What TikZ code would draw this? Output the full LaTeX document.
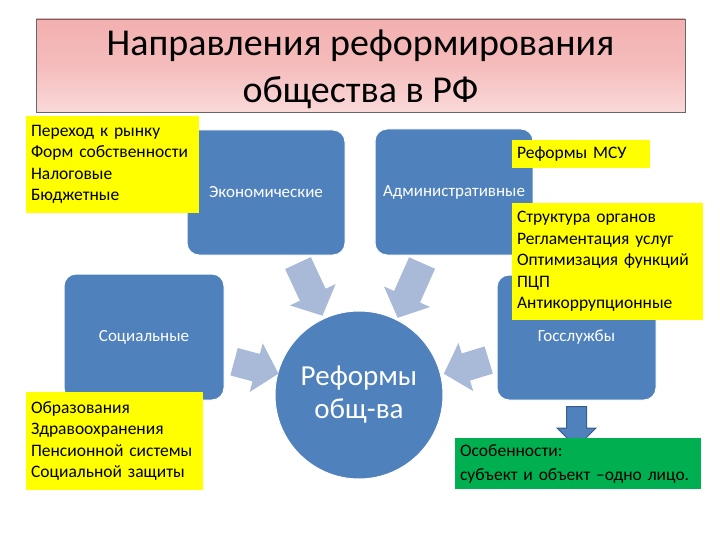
\documentclass[tikz,border=0pt]{standalone}
\usepackage{fontspec}
\setmainfont{Carlito}
\usetikzlibrary{shapes.arrows}
\definecolor{bl}{HTML}{4F81BD}
\definecolor{bldark}{HTML}{385D8A}
\definecolor{lbl}{HTML}{A9B9D8}
\definecolor{yl}{HTML}{FFFF00}
\definecolor{gr}{HTML}{00B050}
\definecolor{pk1}{HTML}{F3B0B0}
\definecolor{pk2}{HTML}{FAD9D9}
\begin{document}
\begin{tikzpicture}[x=1pt,y=-1pt,
  titlebox/.style={draw=black!60, line width=0.6pt, top color=pk1, bottom color=pk2, middle color=pk1!85!white,
    align=center, font=\fontsize{38}{47}\selectfont, inner sep=0pt},
  bluebox/.style={fill=bl, draw=white, line width=1pt, rounded corners=12pt, text=white,
    font=\fontsize{17}{20}\selectfont, inner sep=0pt},
  yellowbox/.style={fill=yl, align=left, font=\fontsize{17.5}{21.4}\selectfont, inner xsep=5pt, inner ysep=0pt},
  greenbox/.style={fill=gr, align=left, font=\fontsize{17.5}{24}\selectfont, inner xsep=5pt, inner ysep=0pt},
  hub/.style={circle, fill=bl, draw=white, line width=1pt, text=white, align=center,
    font=\fontsize{29}{33}\selectfont, minimum size=168pt, inner sep=0pt},
  lightarrow/.style={single arrow, fill=lbl, inner xsep=0pt, inner ysep=14pt,
    single arrow head extend=11pt, single arrow tip angle=95},
  downarrow/.style={single arrow, fill=bl, draw=bldark, line width=1pt, inner xsep=0pt, inner ysep=9.5pt,
    single arrow head extend=9.5pt, single arrow tip angle=90, rotate=-90}
]
\useasboundingbox (0,0) rectangle (720,540);

% title
\node[titlebox, minimum width=649pt, minimum height=89pt] (title) at (360.5,65.5)
  {\rule{0pt}{37pt}Направления реформирования\\общества в РФ\rule[-9pt]{0pt}{9pt}};

% blue boxes
\node[bluebox, minimum width=158pt, minimum height=125pt] (econ) at (266,192.5) {Экономические};
\node[bluebox, minimum width=158pt, minimum height=126pt] (adm) at (454,192) {Административные};
\node[bluebox, minimum width=160pt, minimum height=126pt] (soc) at (144,337) {Социальные};
\node[bluebox, minimum width=159pt, minimum height=125pt] (goss) at (576.5,337.5) {Госслужбы};

% hub
\node[hub] (hub) at (359,395) {Реформы\\общ-ва};

% light arrows
\node[lightarrow, minimum height=58pt, rotate=-65] (a1) at (307.5,283.5) {};
\node[lightarrow, minimum height=60pt, rotate=-114] (a2) at (412.5,284.5) {};
\node[lightarrow, minimum height=46pt, rotate=-15] (a3) at (250,366) {};
\node[lightarrow, minimum height=47pt, rotate=-163] (a4) at (472.5,365) {};

% down arrow
\node[downarrow, minimum height=41pt] (a5) at (576.5,422) {};

% yellow boxes
\node[yellowbox, text width=163pt, minimum height=97pt] (ytl) at (112.5,164.5)
  {Переход к рынку\\Форм собственности\\Налоговые\\Бюджетные};
\node[yellowbox, text width=128pt, minimum height=28pt] (ymsu) at (581,154)
  {Реформы МСУ};
\node[yellowbox, text width=181pt, minimum height=117pt] (yr) at (607.5,261.5)
  {Структура органов\\Регламентация услуг\\Оптимизация функций\\ПЦП\\Антикоррупционные};
\node[yellowbox, text width=167pt, minimum height=98pt] (ybl) at (114.5,441)
  {Образования\\Здравоохранения\\Пенсионной системы\\Социальной защиты};

% green box
\node[greenbox, text width=236pt, minimum height=51pt] (grn) at (578,463.5)
  {Особенности:\\субъект и объект –одно лицо.};
\end{tikzpicture}
\end{document}
